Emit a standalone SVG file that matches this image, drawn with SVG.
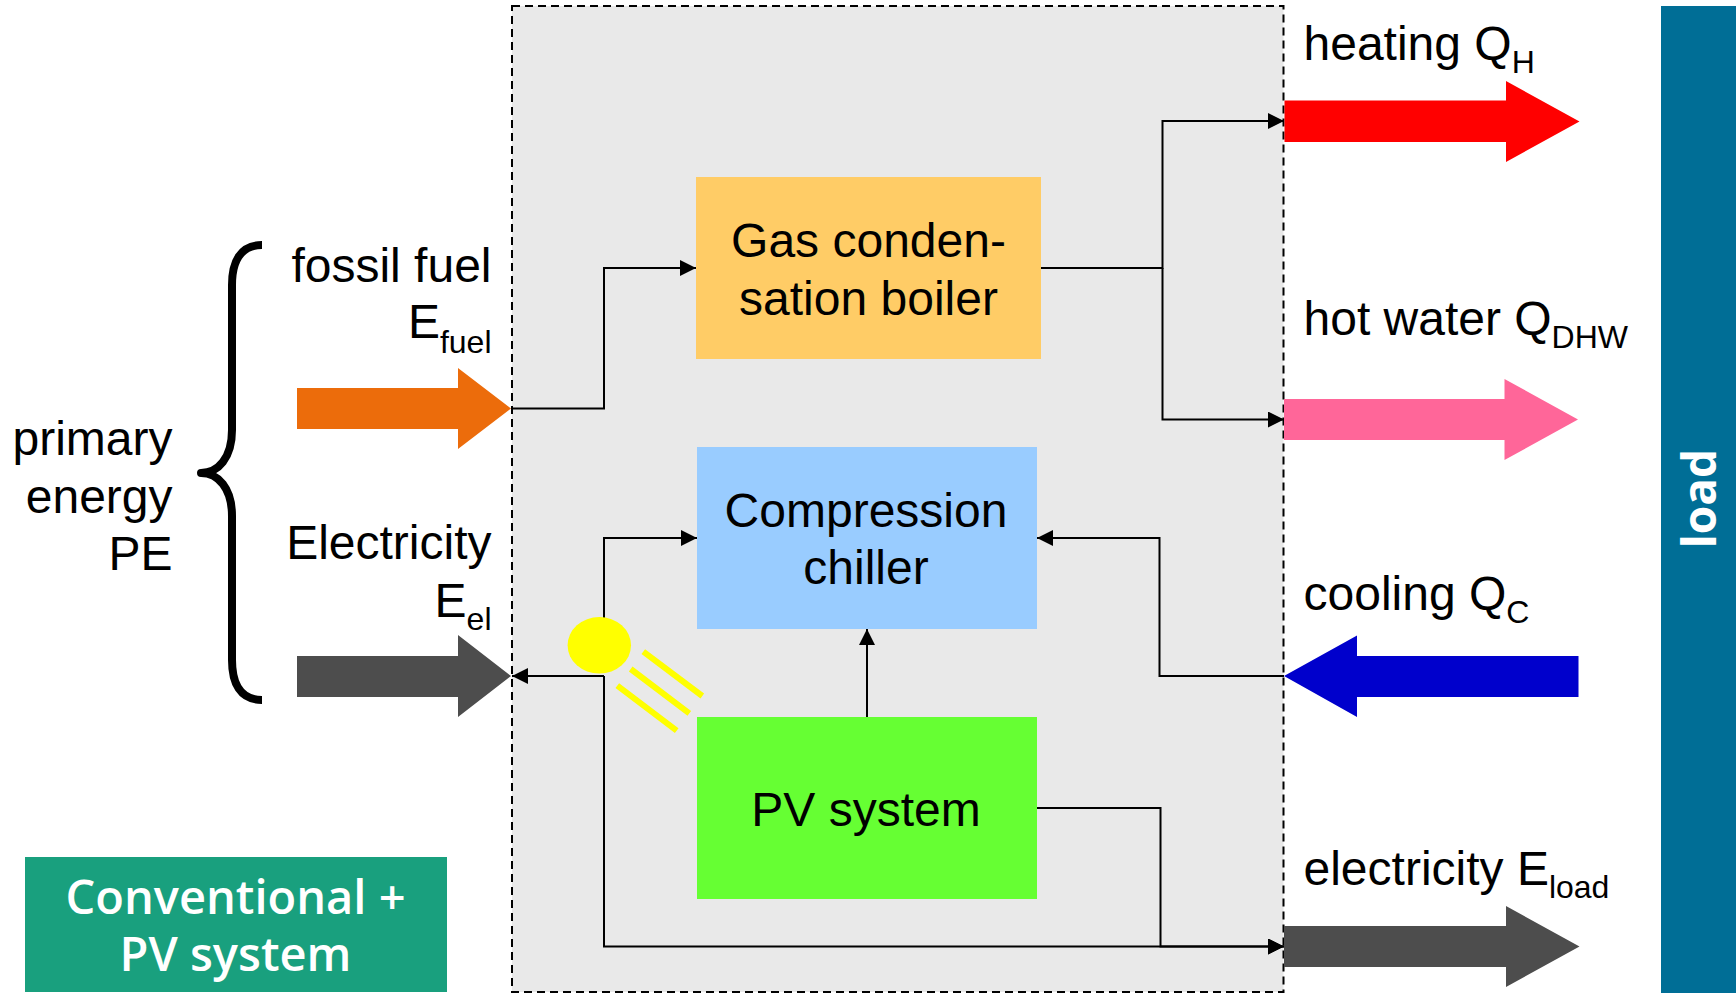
<svg xmlns="http://www.w3.org/2000/svg" width="1736" height="993" viewBox="0 0 1736 993">
<style>
text{font-family:"Liberation Sans",Arial,sans-serif;font-size:48px;fill:#000}
.sub{font-size:32px}
.e{text-anchor:end}
.m{text-anchor:middle}
.w{font-family:"Open Sans",sans-serif;font-weight:600;fill:#fff;font-size:47px;text-anchor:middle}
.c{fill:none;stroke:#000;stroke-width:2}
.ray{stroke:#ff0;stroke-width:6;fill:none}
</style>
<defs>
<marker id="a" markerUnits="userSpaceOnUse" markerWidth="16" markerHeight="16" refX="16" refY="8" orient="auto"><path d="M0 0L16 8L0 16Z" fill="#000"/></marker>
</defs>
<rect id="load-bar-bg" x="1661" y="6" width="75" height="987" fill="#006e96"/>
<g id="system"><rect x="512" y="6" width="771.500" height="986" fill="#e9e9e9" stroke="#000" stroke-width="2" stroke-dasharray="8 5"/></g>
<g id="connectors">
<path class="c" d="M512 408.500H604V268H696" marker-end="url(#a)"/>
<path class="c" d="M1041 268H1162.500V121H1284" marker-end="url(#a)"/>
<path class="c" d="M1162.500 268V419.500H1284" marker-end="url(#a)"/>
<path class="c" d="M1284 676H1159.500V538H1037" marker-end="url(#a)"/>
<path class="c" d="M867 717V629" marker-end="url(#a)"/>
<path class="c" d="M1036 808H1160.500V946.500H1284" marker-end="url(#a)"/>
<path class="c" d="M604 640V538H697" marker-end="url(#a)"/>
<path class="c" d="M604 676V946.500H1284" marker-end="url(#a)"/>
<path class="c" d="M604 676H512" marker-end="url(#a)"/>
</g>
<g id="sun">
<ellipse cx="599.300" cy="645.300" rx="31.700" ry="28.300" fill="#ff0"/>
<path class="ray" d="M643.300 651.700L702.300 696M630.700 669L689.300 713.300M617.300 685.700L676.700 730.700"/>
</g>
<g id="brace"><path d="M262 245C240 245 232 262 232 285V430C232 458 218 473 201 473C218 473 232 488 232 516V660C232 683 240 700 262 700" fill="none" stroke="#000" stroke-width="8" stroke-linecap="butt" stroke-linejoin="round"/></g>
<g id="primary-energy"><text class="e" x="172.500" y="455">primary</text><text class="e" x="172.500" y="513">energy</text><text class="e" x="172.500" y="570">PE</text></g>
<g id="fossil-fuel"><text class="e" x="491.500" y="282">fossil fuel</text><text class="e" x="491.500" y="338">E<tspan class="sub" dy="15">fuel</tspan></text>
<path d="M297 388H458V368L511 408.500L458 449V429H297Z" fill="#ec6c0b"/></g>
<g id="electricity-in"><text class="e" x="491.500" y="559">Electricity</text><text class="e" x="491.500" y="617">E<tspan class="sub" dy="13">el</tspan></text>
<path d="M297 656H458V635L511 676L458 717V697H297Z" fill="#4d4d4d"/></g>
<g id="boiler"><rect x="696" y="177" width="345" height="182" fill="#fc6"/><text class="m" x="868.500" y="257">Gas conden-</text><text class="m" x="868.500" y="315">sation boiler</text></g>
<g id="chiller"><rect x="697" y="447" width="340" height="182" fill="#9cf"/><text class="m" x="866" y="527">Compression</text><text class="m" x="866" y="584">chiller</text></g>
<g id="pv"><rect x="697" y="717" width="340" height="182" fill="#6f3"/><text class="m" x="866" y="826">PV system</text></g>
<g id="heating"><text x="1303.500" y="60">heating Q<tspan class="sub" dy="13">H</tspan></text><path d="M1284.500 100.500H1506V81L1579.500 121.500L1506 162V142H1284.500Z" fill="#f00"/></g>
<g id="hot-water"><text x="1303.500" y="335">hot water Q<tspan class="sub" dy="13">DHW</tspan></text><path d="M1284 399H1504.500V379L1578 419.500L1504.500 460V440H1284Z" fill="#f69"/></g>
<g id="cooling"><text x="1303.500" y="610">cooling Q<tspan class="sub" dy="13">C</tspan></text><path d="M1284 676L1357 635.500V656H1578.500V697H1357V717Z" fill="#00c"/></g>
<g id="electricity-load"><text x="1303.500" y="885">electricity E<tspan class="sub" dy="13">load</tspan></text><path d="M1284 926H1506V906L1579.500 946.500L1506 987V967H1284Z" fill="#4d4d4d"/></g>
<g id="title"><rect x="25" y="857" width="422" height="135" fill="#19a07e"/><text class="w" x="235.500" y="914">Conventional +</text><text class="w" x="235.500" y="971">PV system</text></g>
<g id="load"><text class="w" transform="translate(1716 498.500) rotate(-90)" style="font-weight:700;font-size:46px">load</text></g>
</svg>
